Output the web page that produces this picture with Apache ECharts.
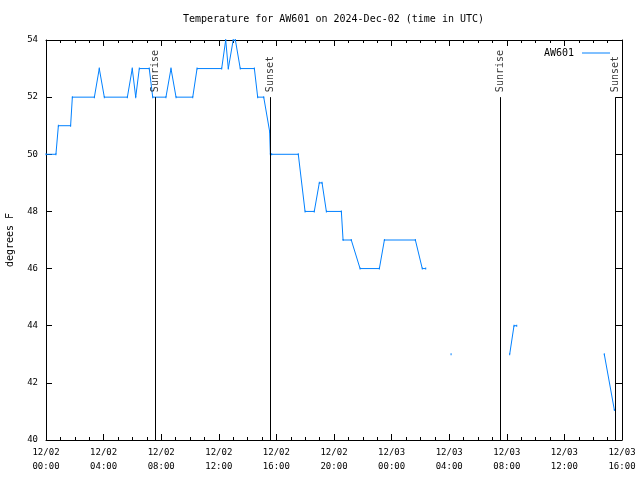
<!DOCTYPE html>
<html><head><meta charset="utf-8">
<script src="https://cdn.jsdelivr.net/npm/echarts@6/dist/echarts.min.js"></script>
<style>html,body{margin:0;padding:0;background:#fff}#c{width:640px;height:480px}</style>
</head><body><div id="c"></div>
<script>
// hours since 2024-12-02 00:00 UTC
const hours = [0,0.69,0.86,1.71,1.83,3.36,3.70,4.05,5.65,5.99,6.23,6.48,7.17,7.41,8.33,8.68,9.03,10.19,10.49,12.20,12.48,12.66,13.00,13.15,13.49,14.47,14.70,15.12,15.53,15.58,15.67,17.52,17.99,18.63,18.98,19.17,19.47,20.51,20.63,21.20,21.81,23.15,23.50,25.65,26.13,26.37,27.0,28.13,28.5,32.20,32.50,32.69,33.0,38.77,39.47];
const temps = [50,50,51,51,52,52,53,52,52,53,52,53,53,52,52,53,52,52,53,53,54,53,54,54,53,53,52,52,50.8,50,50,50,48,48,49,49,48,48,47,47,46,46,47,47,46,46,null,43,null,43,44,44,null,43,41.05];
const sunEvents = ['Sunrise','Sunset','Sunrise','Sunset'];
const sunHours = [7.57,15.56,31.53,39.51];
const xTicks = ['12/02\n00:00','12/02\n04:00','12/02\n08:00','12/02\n12:00','12/02\n16:00','12/02\n20:00','12/03\n00:00','12/03\n04:00','12/03\n08:00','12/03\n12:00','12/03\n16:00'];
const yTicks = [40,42,44,46,48,50,52,54];

const lineData = hours.map((h,i)=>[h, temps[i]===null ? '-' : temps[i]]);
const mono = 'DejaVu Sans Mono, monospace';
const chart = echarts.init(document.getElementById('c'), null, {renderer:'canvas'});
const xCommon = {type:'value', min:0, max:40, interval:4,
  axisLine:{show:true, onZero:false, lineStyle:{color:'#000', width:1}},
  axisTick:{show:true, inside:true, length:6, lineStyle:{color:'#000'}},
  minorTick:{show:true, splitNumber:4, length:3, lineStyle:{color:'#000'}},
  splitLine:{show:false}};
const yCommon = {type:'value', min:40, max:54, interval:2,
  axisLine:{show:true, onZero:false, lineStyle:{color:'#000', width:1}},
  axisTick:{show:true, inside:true, length:6, lineStyle:{color:'#000'}},
  splitLine:{show:false}};
chart.setOption({
  animation:false,
  backgroundColor:'#fff',
  title:{text:'Temperature for AW601 on 2024-Dec-02 (time in UTC)', left:183, top:14, padding:[0,0,0,0],
    textStyle:{fontFamily:mono, fontSize:10, fontWeight:'normal', color:'#000'}},
  grid:{left:46, right:18, top:40, bottom:40, containLabel:false, outerBoundsMode:'none'},
  legend:{data:[{name:'AW601', icon:'rect'}], right:25, top:43, itemWidth:28, itemHeight:1, align:'right', itemGap:0,
    textStyle:{fontFamily:mono, fontSize:10, color:'#000', padding:[0,3,0,0]}},
  xAxis:[
    Object.assign({}, xCommon, {position:'bottom',
      axisLabel:{show:true, margin:6, fontFamily:mono, fontSize:9, color:'#000', lineHeight:14,
        formatter:(v)=>xTicks[Math.round(v/4)] || ''}}),
    Object.assign({}, xCommon, {position:'top', axisLabel:{show:false}})
  ],
  yAxis:[
    Object.assign({}, yCommon, {position:'left', name:'degrees F', nameLocation:'middle', nameGap:31, nameRotate:90,
      nameTextStyle:{fontFamily:mono, fontSize:10, color:'#000'},
      axisLabel:{show:true, margin:8, fontFamily:mono, fontSize:9, color:'#000',
        formatter:(v)=> yTicks.includes(v) ? String(v) : ''}}),
    Object.assign({}, yCommon, {position:'right', axisLabel:{show:false}})
  ],
  series:[
    {name:'AW601', type:'line', data:lineData, connectNulls:false, showSymbol:true, symbol:'rect', symbolSize:[1,2],
      itemStyle:{color:'#0080ff'}, lineStyle:{color:'#0080ff', width:1}, z:3,
      markLine:{silent:true, symbol:['none','none'], label:{show:false},
        lineStyle:{color:'#000', width:1, type:'solid'},
        data: sunHours.map(h=>[{coord:[h,40]},{coord:[h,52]}])}},
    {name:'sun', type:'scatter', data: sunHours.map((h,i)=>({value:[h,52], name:sunEvents[i]})), symbolSize:0,
      label:{show:true, position:'top', distance:5, rotate:90, align:'left', verticalAlign:'middle',
        formatter:(p)=>p.name, fontFamily:mono, fontSize:10, color:'#000'}, z:4}
  ]
});
</script></body></html>
